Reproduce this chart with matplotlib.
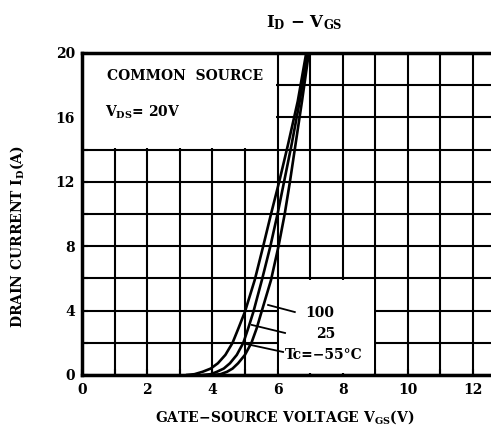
import matplotlib
matplotlib.use('Agg')
import matplotlib.pyplot as plt
from matplotlib.patches import Rectangle
from matplotlib.ticker import MultipleLocator

# ---- data ----
id_pts = [0, 0.05, 0.2, 0.4, 0.73, 1.25, 2.0, 2.9, 3.93, 5.9, 8.0, 10.0, 12.0, 14.3, 17.0, 20.0]
vgs_m55 = [3.2, 3.45, 3.7, 3.95, 4.17, 4.4, 4.62, 4.8, 5.0, 5.3, 5.56, 5.8, 6.05, 6.32, 6.62, 6.88]
vgs_25 = [3.7, 3.95, 4.14, 4.35, 4.54, 4.75, 4.95, 5.1, 5.26, 5.52, 5.78, 6.0, 6.2, 6.43, 6.68, 6.92]
vgs_100 = [4.0, 4.25, 4.45, 4.62, 4.79, 5.0, 5.2, 5.36, 5.51, 5.8, 6.03, 6.22, 6.38, 6.55, 6.75, 6.96]

x_ticks = [0, 2, 4, 6, 8, 10, 12]
y_ticks = [0, 4, 8, 12, 16, 20]

FONT = ['DejaVu Serif', 'DejaVu Sans']
plt.rcParams['font.family'] = FONT
plt.rcParams['font.weight'] = 'bold'
plt.rcParams['mathtext.fontset'] = 'dejavuserif'

fig = plt.figure(figsize=(4.91, 4.30), dpi=100)
ax = fig.add_axes([82/491, 1-375/430, 1-82/491, (375-53)/430])
ax.set_xlim(0, 12.55)
ax.set_ylim(0, 20)

ax.xaxis.set_major_locator(MultipleLocator(2))
ax.xaxis.set_minor_locator(MultipleLocator(1))
ax.yaxis.set_major_locator(MultipleLocator(4))
ax.yaxis.set_minor_locator(MultipleLocator(2))
ax.set_xticks(x_ticks)
ax.set_yticks(y_ticks)
ax.set_xticklabels([str(t) for t in x_ticks], fontweight='bold', fontsize=10)
ax.set_yticklabels([str(t) for t in y_ticks], fontweight='bold', fontsize=10)
ax.tick_params(which='both', direction='in', length=4, width=1.5, color='black')
ax.tick_params(axis='x', pad=6)
ax.tick_params(axis='y', pad=5)

ax.set_axisbelow(True)
ax.grid(True, which='both', color='black', linewidth=1.5)

for s in ['left', 'bottom', 'top']:
    ax.spines[s].set_linewidth(2.5)
ax.spines['right'].set_visible(False)

# blank regions holding the annotations
ax.add_patch(Rectangle((0.05, 14.1), 6 - 0.1, 5.8, facecolor='white', edgecolor='none', zorder=1))
ax.add_patch(Rectangle((6.05, 0.1), 3 - 0.1, 5.8, facecolor='white', edgecolor='none', zorder=1))

for v in (vgs_m55, vgs_25, vgs_100):
    ax.plot(v, id_pts, color='black', linewidth=1.9, zorder=3, solid_capstyle='round')

# leader lines
ax.plot([5.71, 6.53], [4.35, 3.91], color='black', linewidth=1.3, zorder=3)
ax.plot([5.21, 6.23], [3.11, 2.61], color='black', linewidth=1.3, zorder=3)
ax.plot([5.03, 6.17], [1.93, 1.43], color='black', linewidth=1.3, zorder=3)

ax.text(7.3, 3.88, '100', fontsize=10, fontweight='bold', ha='center', va='center', zorder=4)
ax.text(7.48, 2.55, '25', fontsize=10, fontweight='bold', ha='center', va='center', zorder=4)
ax.text(6.22, 1.22, 'Tc=\u221255\u00b0C', fontsize=10, fontweight='bold', ha='left', va='center', zorder=4)

ax.text(0.77, 18.55, 'COMMON  SOURCE', fontsize=10, fontweight='bold', ha='left', va='center', zorder=4)
ax.text(0.71, 16.3, r'V$_{\mathbf{DS}}$= 20V', fontsize=10, fontweight='bold', ha='left', va='center', zorder=4)

fig.text(304/491, 1-23/430, r'$\mathbf{I_D}$ $-$ $\mathbf{V_{GS}}$', fontsize=12,
         ha='center', va='center')
fig.text(285/491, 1-417/430, r'GATE$-$SOURCE VOLTAGE V$_{\mathbf{GS}}$(V)', fontsize=10,
         fontweight='bold', ha='center', va='center')
fig.text(17/491, 1-237/430, r'DRAIN CURRENT I$_{\mathbf{D}}$(A)', fontsize=10,
         fontweight='bold', ha='center', va='center', rotation=90)

fig.savefig('out.png', dpi=100)
